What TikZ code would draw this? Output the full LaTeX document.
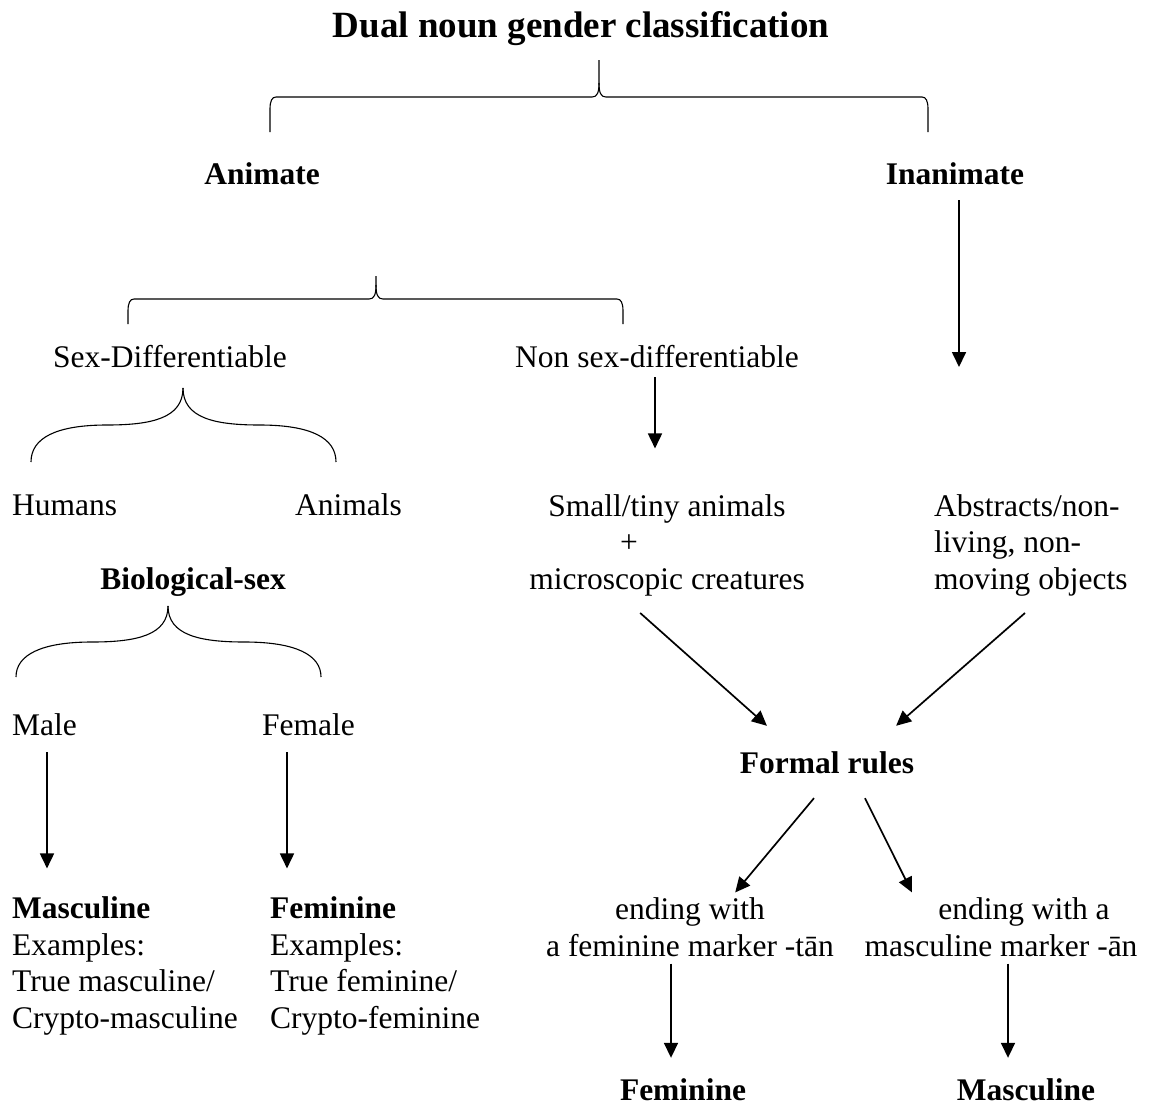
\documentclass[tikz,border=0pt]{standalone}
\usepackage{fontspec}
\setmainfont{Liberation Serif}
\usetikzlibrary{arrows.meta, calc}
\tikzset{%
  txt/.style    = {inner sep = 0pt, text height = 22pt, text depth = 7pt,
    anchor = base, font = \fontsize{31.5}{36.5}\selectfont},
  bold/.style   = {txt, font = \fontsize{31.5}{36.5}\selectfont\bfseries},
  multi/.style  = {inner sep = 0pt, anchor = base,
    font = \fontsize{31.5}{36.5}\selectfont}, % several lines, base = last line
  arr/.style    = {-{Triangle[length = 15pt, width = 14pt]}, line width = 1.7pt},
  brace/.style  = {line width = 1.1pt}
}
% square bracket with a spike: left x, right x, spike x, bar y, foot y, spike top y
\newcommand{\flatbrace}[6]{%
  \draw[brace] (#1,#5) -- (#1,#4+12) .. controls (#1,#4+4) and (#1+2,#4) .. (#1+6,#4)
    -- (#3-7,#4) .. controls (#3-2,#4) and (#3,#4-4) .. (#3,#4-14) -- (#3,#6);
  \draw[brace] (#2,#5) -- (#2,#4+12) .. controls (#2,#4+4) and (#2-2,#4) .. (#2-6,#4)
    -- (#3+7,#4) .. controls (#3+2,#4) and (#3,#4-4) .. (#3,#4-14);
}
% curly brace: left x, right x, tip x, tip y, shoulder y, foot y
\newcommand{\curlybrace}[6]{%
  \draw[brace] (#1,#6) .. controls (#1,#5+13) and (#1+25,#5) .. ({(#1+#3)/2},#5)
    .. controls ({(#1+#3)/2+45},#5) and (#3,#5-7) .. (#3,#4);
  \draw[brace] (#2,#6) .. controls (#2,#5+13) and (#2-25,#5) .. ({(#2+#3)/2},#5)
    .. controls ({(#2+#3)/2-45},#5) and (#3,#5-7) .. (#3,#4);
}

\begin{document}
\begin{tikzpicture}[x = 1pt, y = -1pt]
\useasboundingbox (0,0) rectangle (1151,1106);
%gender nodes
\draw
	(581,37) node [bold, font = \fontsize{37}{44}\selectfont\bfseries] (title) {Dual noun gender classification}
	(262,184) node [bold] (anim) {Animate}
	(955,184) node [bold] (inan) {Inanimate}
	(170,367) node [txt] (sexd) {Sex-Differentiable}
	(657,367) node [txt] (nonsex) {Non sex-differentiable}
	(12,515) node [txt, anchor = base west] (human) {Humans}
	(295,515) node [txt, anchor = base west] (animal) {Animals}
	(193,589) node [bold] (biosex) {Biological-sex}
	(12,735) node [txt, anchor = base west] (male) {Male}
	(262,735) node [txt, anchor = base west] (female) {Female}
	(12,1028) node [multi, anchor = base west, align = left] (mascex)
		{\textbf{Masculine}\\Examples:\\True masculine/\\Crypto-masculine}
	(270,1028) node [multi, anchor = base west, align = left] (femex)
		{\textbf{Feminine}\\Examples:\\True feminine/\\Crypto-feminine}
	(667,589) node [multi, align = center] (small)
		{Small/tiny animals\\\makebox[94pt][l]{+}\\microscopic creatures}
	(934,589) node [multi, anchor = base west, align = left] (abstr)
		{Abstracts/non-\\living, non-\\moving objects}
	(827,773) node [bold] (formal) {Formal rules}
	(690,956) node [multi, align = center] (femend) {ending with\\a feminine marker -tān}
	(1001,956) node [multi, align = center] (mascend) {\hspace*{46pt}ending with a\\masculine marker -ān}
	(683,1100) node [bold] (femout) {Feminine}
	(1026,1100) node [bold] (mascout) {Masculine};
%braces
\flatbrace{270}{928}{599}{97}{132}{60}
\flatbrace{128}{623}{376}{299}{324}{276}
\curlybrace{31}{336}{183}{388}{425}{462}
\curlybrace{16}{321}{168}{606}{642}{677}
%arrows
\draw[arr, shorten <= 9pt] ([xshift = 4pt]inan.south) -- ([xshift = 4pt]inan.south |- nonsex.base);
\draw[arr, shorten <= 3pt, shorten >= 45.5pt] ([xshift = -2pt]nonsex.south) -- ([xshift = -2pt]nonsex.south |- small.north);
\draw[arr, shorten <= 25.6pt, shorten >= 37.6pt] ([xshift = -46pt]small.south) -- ([xshift = -32pt]formal.north);
\draw[arr, shorten <= 25.8pt, shorten >= 38pt] ([xshift = 110.4pt]abstr.south west) -- ([xshift = 40.5pt]formal.north);
\draw[arr, shorten <= 23.4pt, shorten >= 6.5pt] ([xshift = 2pt]formal.south) -- ([xshift = 41pt]femend.north);
\draw[arr, shorten <= 20.1pt, shorten >= 5.6pt] ([xshift = 29pt]formal.south) -- ([xshift = -86.5pt]mascend.north);
\draw[arr, shorten <= 7pt, shorten >= 20pt] ([xshift = -19pt]femend.south) -- ([xshift = -19pt]femend.south |- femout.north);
\draw[arr, shorten <= 7pt, shorten >= 20pt] ([xshift = 7pt]mascend.south) -- ([xshift = 7pt]mascend.south |- mascout.north);
%sex arrows
\draw[arr, shorten <= 10pt, shorten >= 28pt] ([xshift = 35pt]male.south west) -- ([xshift = 35pt]male.south west |- mascex.north);
\draw[arr, shorten <= 10pt, shorten >= 28pt] ([xshift = 25pt]female.south west) -- ([xshift = 25pt]female.south west |- femex.north);
\end{tikzpicture}
\end{document}
